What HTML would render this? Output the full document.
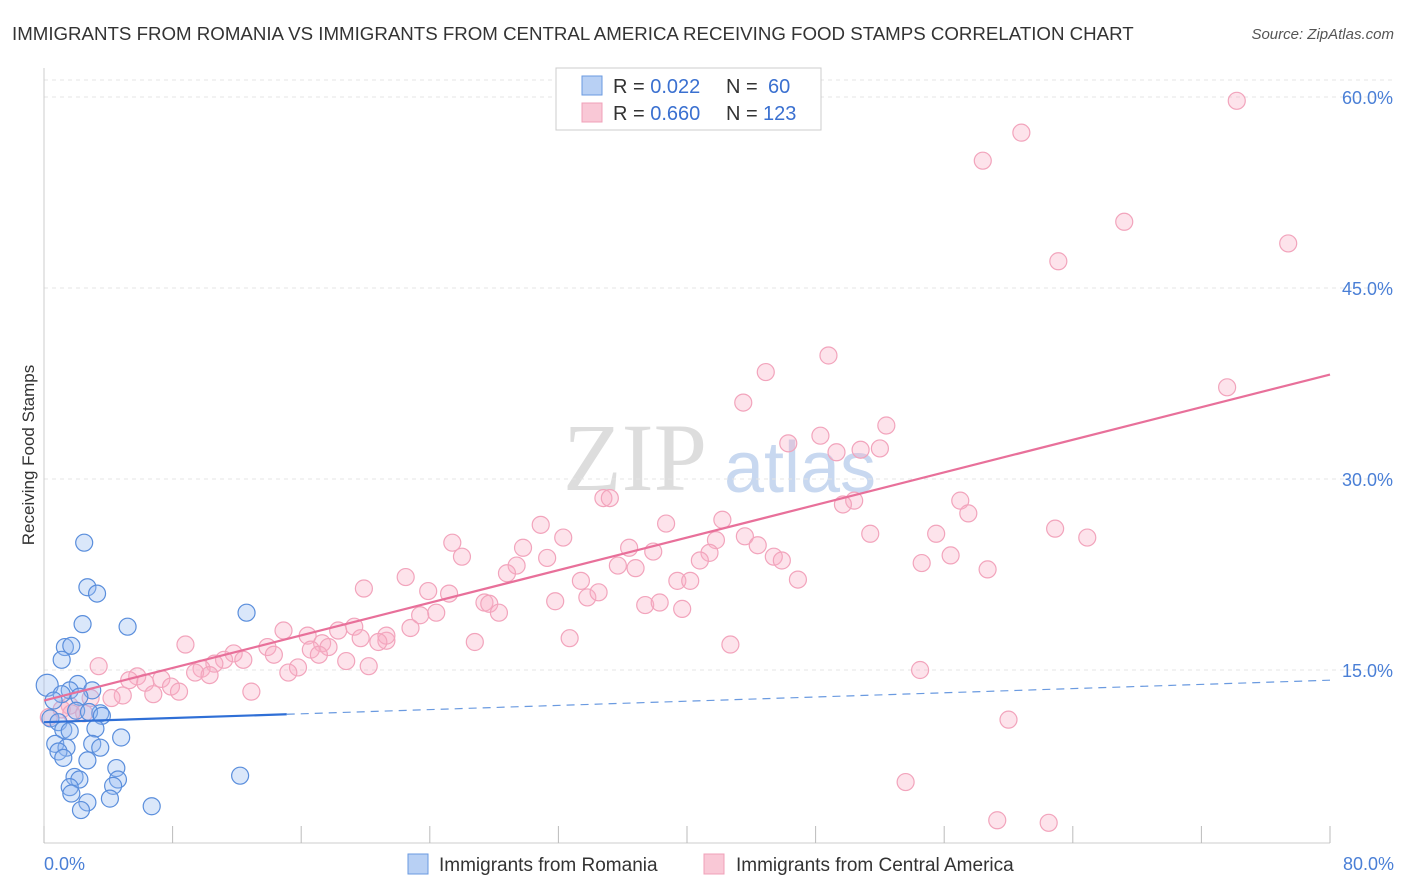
<!DOCTYPE html>
<html><head><meta charset="utf-8"><style>
body{margin:0;background:#fff;font-family:"Liberation Sans",sans-serif;}
#wrap{position:relative;width:1406px;height:892px;overflow:hidden;}
</style></head><body>
<div id="wrap">
<svg id="svg" width="1406" height="892" xmlns="http://www.w3.org/2000/svg">
<text x="12" y="40" font-size="18.7" fill="#333">IMMIGRANTS FROM ROMANIA VS IMMIGRANTS FROM CENTRAL AMERICA RECEIVING FOOD STAMPS CORRELATION CHART</text>
<text x="1394" y="39" font-size="15" fill="#555" font-style="italic" text-anchor="end">Source: ZipAtlas.com</text>
<text x="0" y="0" transform="translate(34,455) rotate(-90)" font-size="17" fill="#333" text-anchor="middle">Receiving Food Stamps</text>
<g><text x="635" y="490" font-size="96" fill="#ddd" font-family="Liberation Serif" text-anchor="middle">ZIP</text><text x="800" y="492" font-size="72" fill="#c8d8f0" text-anchor="middle">atlas</text></g>
<g id="grid"></g><g id="marks"></g>
<g>
<rect x="556" y="68" width="265" height="62" fill="#fff" stroke="#ccc"/>
<rect x="582" y="76" width="20" height="19" fill="#b8d0f4" stroke="#6a9ae0"/>
<rect x="582" y="103" width="20" height="19" fill="#f9c8d6" stroke="#f0a0b8"/>
<text x="613" y="93" font-size="20" fill="#333">R = <tspan fill="#3a70d0">0.022</tspan><tspan x="726">N = </tspan><tspan x="768" fill="#3a70d0">60</tspan></text>
<text x="613" y="120" font-size="20" fill="#333">R = <tspan fill="#3a70d0">0.660</tspan><tspan x="726">N = </tspan><tspan x="763" fill="#3a70d0">123</tspan></text>
</g>
<g>
<rect x="408" y="854" width="20" height="20" fill="#b8d0f4" stroke="#6a9ae0"/>
<text x="439" y="871" font-size="19" fill="#333">Immigrants from Romania</text>
<rect x="704" y="854" width="20" height="20" fill="#f9c8d6" stroke="#f0a0b8"/>
<text x="736" y="871" font-size="19" fill="#333">Immigrants from Central America</text>
</g>
</svg>
<script>
const yTicks=[15,30,45,60];
const xTickLabels=["0.0%","80.0%"];
const blueX=[2.5,2.7,3.3,12.6,5.2,2.4,1.3,1.7,1.1,0.2,2.1,1.6,1.1,3.0,2.2,0.6,2.0,3.5,2.8,3.6,0.4,0.9,3.2,1.2,1.6,4.8,3.0,3.5,0.7,1.4,0.9,1.2,2.7,4.5,12.2,1.9,2.2,4.6,4.3,1.6,1.7,4.1,2.7,6.7,2.3];
const blueY=[25.0,21.5,21.0,19.5,18.4,18.6,16.8,16.9,15.8,13.8,13.9,13.4,13.1,13.4,12.9,12.6,11.8,11.6,11.7,11.4,11.2,10.9,10.4,10.3,10.2,9.7,9.2,8.9,9.2,8.9,8.6,8.1,7.9,7.3,6.7,6.6,6.4,6.4,5.9,5.8,5.3,4.9,4.6,4.3,4.0];
const pinkX=[74.2,60.8,58.4,67.2,63.1,77.4,48.8,44.9,43.5,73.6,52.4,48.3,46.3,52.0,50.8,49.3,57.0,50.4,49.7,57.5,34.8,35.2,42.2,38.7,30.9,62.9,64.9,51.4,55.5,43.6,41.8,32.3,25.4,29.8,44.4,36.4,37.9,41.4,56.4,26.0,31.3,45.4,45.9,40.8,54.6,29.4,58.7,35.7,28.8,36.8,46.9,39.4,40.2,33.4,22.5,19.9,23.9,25.2,33.8,34.5,31.8,27.4,27.7,37.4,38.3,39.7,24.4,23.4,28.3,22.8,19.3,18.3,21.3,21.3,19.7,20.8,26.8,32.7,14.9,16.4,8.8,17.3,17.7,42.7,13.9,11.8,14.3,16.6,17.1,12.4,11.2,18.8,20.2,10.6,9.8,3.4,9.4,15.8,15.2,10.3,54.5,5.8,7.3,5.3,6.3,7.9,8.4,12.9,4.9,6.8,4.2,2.9,1.6,1.1,1.7,60.0,53.6,59.3,62.5,0.3,2.5];
const pinkY=[59.7,57.2,55.0,50.2,47.1,48.5,39.7,38.4,36.0,37.2,34.2,33.4,32.8,32.4,32.3,32.1,28.3,28.3,28.0,27.3,28.5,28.5,26.8,26.5,26.4,26.1,25.4,25.7,25.7,25.5,25.2,25.4,25.0,24.6,24.8,24.6,24.3,24.2,24.0,23.9,23.8,23.9,23.6,23.6,23.4,23.2,22.9,23.2,22.6,23.0,22.1,22.0,22.0,22.0,22.3,21.4,21.2,21.0,20.7,21.1,20.4,20.3,20.2,20.1,20.3,19.8,19.5,19.3,19.5,18.3,18.4,18.1,17.3,17.7,17.5,17.2,17.2,17.5,18.1,17.7,17.0,17.1,16.8,17.0,16.8,16.3,16.2,16.6,16.2,15.8,15.8,15.7,15.3,15.5,15.1,15.3,14.8,15.2,14.8,14.6,15.0,14.5,14.3,14.2,14.0,13.7,13.3,13.3,13.0,13.1,12.8,12.8,12.2,11.9,11.6,11.1,6.2,3.2,3.0,11.3,11.6];
const blueTrend=[10.9,14.2];
const blueSolidEnd=15.1;
const pinkTrend=[12.6,38.2];
const X0=44,X1=1330,Y0=861,PX=(X1-X0)/80,PY=191/15;
function sx(v){return X0+v*PX;}
function sy(v){return Y0-v*PY;}
const NS="http://www.w3.org/2000/svg";
function mk(t,a,p){const e=document.createElementNS(NS,t);for(const k in a)e.setAttribute(k,a[k]);p.appendChild(e);return e;}
const grid=document.getElementById('grid'),marks=document.getElementById('marks');
const topLine=mk('line',{x1:X0,x2:1394,y1:80,y2:80,stroke:'#e4e4e4','stroke-dasharray':'4,4'},grid);


yTicks.forEach(t=>{
 const g=mk('line',{x1:X0,x2:1394,y1:sy(t),y2:sy(t),stroke:'#e4e4e4','stroke-dasharray':'4,4'},grid);
 
 
 const l=mk('text',{x:1393,y:sy(t)+7,'font-size':18,fill:'#4a7fd6','text-anchor':'end'},grid);
 l.textContent=t.toFixed(1)+'%';
 
 
});
const axLine=mk('line',{x1:X0,x2:X0,y1:68,y2:843,stroke:'#ccc'},grid);


const bxLine=mk('line',{x1:X0,x2:X1,y1:843,y2:843,stroke:'#ccc'},grid);


for(let i=0;i<=10;i++){
 const tk=mk('line',{x1:sx(i*8),x2:sx(i*8),y1:826,y2:843,stroke:'#bbb'},grid);
 
 
}
[[0,'start',X0],[80,'end',1394]].forEach((d,i)=>{
 const l=mk('text',{x:d[2],y:870,'font-size':18,fill:'#4a7fd6','text-anchor':d[1]},grid);
 l.textContent=xTickLabels[i];
 
 
});
pinkX.forEach((x,i)=>{
 const c=mk('circle',{cx:sx(x),cy:sy(pinkY[i]),r:8.5,fill:'rgba(248,175,198,0.35)',stroke:'#f2a4bc','stroke-width':1.2},marks);
 
 
});
blueX.forEach((x,i)=>{
 const c=mk('circle',{cx:sx(x),cy:sy(blueY[i]),r:i==9?11:8.5,fill:'rgba(150,185,240,0.35)',stroke:'#5a8edc','stroke-width':1.2},marks);
 
 
});
function by(x){return blueTrend[0]+(blueTrend[1]-blueTrend[0])*x/80;}
const bs=mk('line',{x1:sx(0),y1:sy(by(0)),x2:sx(blueSolidEnd),y2:sy(by(blueSolidEnd)),stroke:'#2f6fd6','stroke-width':2.2},marks);


const bd=mk('line',{x1:sx(blueSolidEnd),y1:sy(by(blueSolidEnd)),x2:sx(80),y2:sy(by(80)),stroke:'#6a9ae0','stroke-width':1.2,'stroke-dasharray':'8,6'},marks);


const pl=mk('line',{x1:sx(0),y1:sy(pinkTrend[0]),x2:sx(80),y2:sy(pinkTrend[1]),stroke:'#e8709a','stroke-width':2.2},marks);


</script>
</div>
</body></html>
